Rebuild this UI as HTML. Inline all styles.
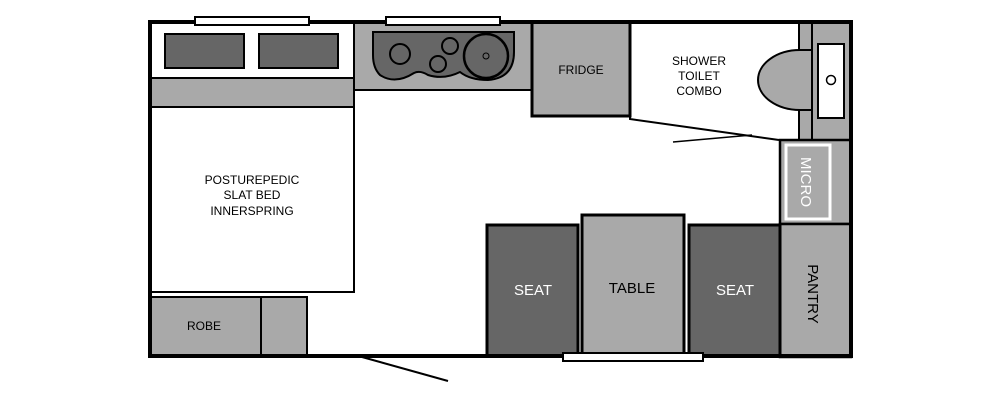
<!DOCTYPE html>
<html><head><meta charset="utf-8"><style>
html,body{margin:0;padding:0;background:#fff;}
svg{display:block;font-family:"Liberation Sans",sans-serif;}
</style></head><body>
<svg width="1000" height="400" viewBox="0 0 1000 400" xmlns="http://www.w3.org/2000/svg">
<rect x="0" y="0" width="1000" height="400" fill="#fff"/>
<!-- bed headboard area -->
<rect x="150" y="78" width="204" height="29" fill="#a9a9a9" stroke="#000" stroke-width="2"/>
<rect x="165" y="34" width="79" height="34" fill="#666" stroke="#000" stroke-width="2"/>
<rect x="259" y="34" width="79" height="34" fill="#666" stroke="#000" stroke-width="2"/>
<rect x="150" y="107" width="204" height="185" fill="#fff" stroke="#000" stroke-width="2"/>
<text x="252" y="184" font-size="12" text-anchor="middle">POSTUREPEDIC</text>
<text x="252" y="199" font-size="12" text-anchor="middle">SLAT BED</text>
<text x="252" y="215" font-size="12" text-anchor="middle">INNERSPRING</text>
<!-- kitchen -->
<rect x="354" y="22" width="178" height="68" fill="#a9a9a9" stroke="#000" stroke-width="2"/>
<path d="M373,32 L514,32 L514,52 Q514,78 488,80 Q470,80 460,72 Q444,80 428,75 Q420,70 414,73 Q395,85 380,75 Q373,68 373,55 Z" fill="#666" stroke="#000" stroke-width="2"/>
<circle cx="400" cy="54" r="10" fill="none" stroke="#000" stroke-width="2"/>
<circle cx="450" cy="46" r="8" fill="none" stroke="#000" stroke-width="2"/>
<circle cx="438" cy="64" r="8" fill="none" stroke="#000" stroke-width="2"/>
<circle cx="486" cy="56" r="22" fill="none" stroke="#000" stroke-width="2.5"/>
<circle cx="486" cy="56" r="3" fill="none" stroke="#000" stroke-width="1"/>
<!-- fridge -->
<rect x="532" y="22" width="98" height="94" fill="#a9a9a9" stroke="#000" stroke-width="3"/>
<text x="581" y="74" font-size="12" text-anchor="middle">FRIDGE</text>
<!-- shower -->
<path d="M630,22 L630,119 L779,140" fill="none" stroke="#000" stroke-width="2"/>
<line x1="673" y1="142" x2="752" y2="135" stroke="#000" stroke-width="1.5"/>
<text x="699" y="65" font-size="12" text-anchor="middle">SHOWER</text>
<text x="699" y="80" font-size="12" text-anchor="middle">TOILET</text>
<text x="699" y="95" font-size="12" text-anchor="middle">COMBO</text>
<rect x="799" y="22" width="13" height="118" fill="#a9a9a9" stroke="#000" stroke-width="2"/>
<path d="M812,50 L800,50 A42,30 0 0 0 800,110 L812,110 Z" fill="#a9a9a9" stroke="#000" stroke-width="2"/>
<rect x="812" y="22" width="39" height="118" fill="#a9a9a9" stroke="#000" stroke-width="2"/>
<rect x="818" y="44" width="26" height="74" fill="#fff" stroke="#000" stroke-width="2"/>
<circle cx="831" cy="80" r="4.5" fill="#fff" stroke="#000" stroke-width="1.5"/>
<!-- micro -->
<rect x="780" y="140" width="71" height="84" fill="#a9a9a9" stroke="#000" stroke-width="2.5"/>
<rect x="786" y="145" width="44" height="74" fill="#a9a9a9" stroke="#fff" stroke-width="3"/>
<text transform="translate(801,182) rotate(90)" font-size="15" fill="#fff" text-anchor="middle">MICRO</text>
<!-- pantry -->
<rect x="780" y="224" width="71" height="133" fill="#a9a9a9" stroke="#000" stroke-width="2.5"/>
<text transform="translate(808,294) rotate(90)" font-size="15" text-anchor="middle">PANTRY</text>
<!-- seats/table -->
<rect x="487" y="225" width="91" height="131" fill="#666" stroke="#000" stroke-width="3"/>
<text x="533" y="295" font-size="15" fill="#fff" text-anchor="middle">SEAT</text>
<rect x="582" y="215" width="102" height="141" fill="#a9a9a9" stroke="#000" stroke-width="3"/>
<text x="632" y="293" font-size="15" text-anchor="middle">TABLE</text>
<rect x="689" y="225" width="91" height="131" fill="#666" stroke="#000" stroke-width="3"/>
<text x="735" y="295" font-size="15" fill="#fff" text-anchor="middle">SEAT</text>
<!-- robe -->
<rect x="150" y="297" width="157" height="59" fill="#a9a9a9" stroke="#000" stroke-width="2"/>
<line x1="261" y1="297" x2="261" y2="356" stroke="#000" stroke-width="2"/>
<text x="204" y="330" font-size="12" text-anchor="middle">ROBE</text>
<!-- outer walls -->
<rect x="150" y="22" width="701" height="334" fill="none" stroke="#000" stroke-width="4"/>
<!-- windows -->
<rect x="195" y="17" width="114" height="8" fill="#fff" stroke="#000" stroke-width="2"/>
<rect x="386" y="17" width="114" height="8" fill="#fff" stroke="#000" stroke-width="2"/>
<rect x="563" y="353" width="140" height="8" fill="#fff" stroke="#000" stroke-width="2"/>
<!-- door -->
<line x1="362" y1="357" x2="448" y2="381" stroke="#000" stroke-width="2"/>
</svg>
</body></html>
